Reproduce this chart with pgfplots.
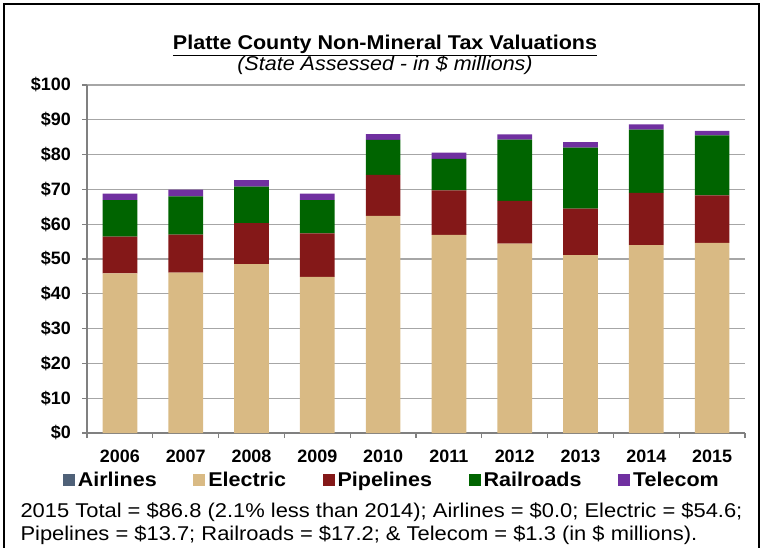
\documentclass[border=0pt]{standalone}
\usepackage{fontspec}
\setmainfont{Liberation Sans}
\newfontfamily\wideA{Liberation Sans}[FakeStretch=1.08]
\newfontfamily\wideB{Liberation Sans}[FakeStretch=1.1]
\usepackage{pgfplots}
\pgfplotsset{compat=1.18}
\usepackage{pgfplotstable}

\definecolor{cAir}{HTML}{4F6178}
\definecolor{cEle}{HTML}{D9BA84}
\definecolor{cPip}{HTML}{841818}
\definecolor{cRai}{HTML}{006400}
\definecolor{cTel}{HTML}{7030A0}
\definecolor{cGrid}{HTML}{A6A6A6}
\definecolor{cAxis}{HTML}{808080}

\pgfplotstableread{
x year A E P R T
0 2006 0 45.9 10.5 10.5 1.9
1 2007 0 46.1 10.9 11.0 1.9
2 2008 0 48.5 11.8 10.5 1.9
3 2009 0 44.9 12.5 9.5 1.9
4 2010 0 62.4 11.8 10.0 1.7
5 2011 0 56.9 12.8 9.1 1.8
6 2012 0 54.4 12.3 17.6 1.5
7 2013 0 51.1 13.4 17.5 1.6
8 2014 0 54.0 15.0 18.2 1.5
9 2015 0 54.6 13.7 17.2 1.3
}\data

\begin{document}
\begin{tikzpicture}[x=1bp,y=1bp]
\useasboundingbox (0,0) rectangle (764,-548);
\draw[line width=2bp] (4,-560) -- (4,-4) -- (759,-4) -- (759,-560);
\node[anchor=base, font=\wideA\fontsize{20}{24}\selectfont\bfseries] at (385,-50) {\underline{Platte County Non-Mineral Tax Valuations}};
\node[anchor=base, font=\wideA\fontsize{20}{24}\selectfont\itshape] at (385,-71) {(State Assessed - in \$ millions)};
\begin{axis}[
  at={(87bp,-433bp)}, anchor=south west,
  scale only axis, width=658bp, height=348bp,
  ybar stacked, bar width=34.7bp,
  xmin=-0.5, xmax=9.5, ymin=0, ymax=100,
  axis lines*=left,
  axis line style={color=cAxis, line width=1.6bp},
  ytick={0,10,...,100},
  yticklabels={\$0,\$10,\$20,\$30,\$40,\$50,\$60,\$70,\$80,\$90,\$100},
  xtick={0,...,9},
  xticklabels={2006,2007,2008,2009,2010,2011,2012,2013,2014,2015},
  minor xtick={-0.5,0.5,...,9.5},
  tick align=outside,
  major tick length=5bp, minor tick length=5bp,
  major x tick style={draw=none},
  tick style={color=cAxis, line width=1.2bp},
  ymajorgrids,
  grid style={color=cGrid, line width=1.1bp},
  y tick label style={font=\fontsize{18}{20}\selectfont\bfseries, inner sep=0pt, xshift=-11bp},
  x tick label style={font=\fontsize{18}{20}\selectfont\bfseries, inner sep=0pt, yshift=-12bp},
  legend columns=5,
  legend style={at={(-0.037,-0.135)}, anchor=west, draw=none, fill=none, inner sep=0pt,
    font=\wideA\fontsize{20}{24}\selectfont\bfseries,
    nodes={inner sep=0pt, anchor=base west},
    /tikz/every odd column/.style={column sep=3bp},
    /tikz/every even column/.style={column sep=36.5bp}},
  legend cell align=left,
  legend image code/.code={\fill[#1] (0bp,0bp) rectangle (12bp,12bp);},
]
\addplot[fill=cAir, draw=none] table[x=x, y=A] {\data};
\addplot[fill=cEle, draw=none] table[x=x, y=E] {\data};
\addplot[fill=cPip, draw=none] table[x=x, y=P] {\data};
\addplot[fill=cRai, draw=none] table[x=x, y=R] {\data};
\addplot[fill=cTel, draw=none] table[x=x, y=T] {\data};
\legend{Airlines, Electric, Pipelines, Railroads, Telecom}
\end{axis}
\node[anchor=base west, font=\wideB\fontsize{20}{24}\selectfont] at (17,-517) {2015 Total = \$86.8 (2.1\% less than 2014); Airlines = \$0.0; Electric = \$54.6;};
\node[anchor=base west, font=\wideB\fontsize{20}{24}\selectfont] at (17,-540) {Pipelines = \$13.7; Railroads = \$17.2; \& Telecom = \$1.3 (in \$ millions).};
\end{tikzpicture}
\end{document}
